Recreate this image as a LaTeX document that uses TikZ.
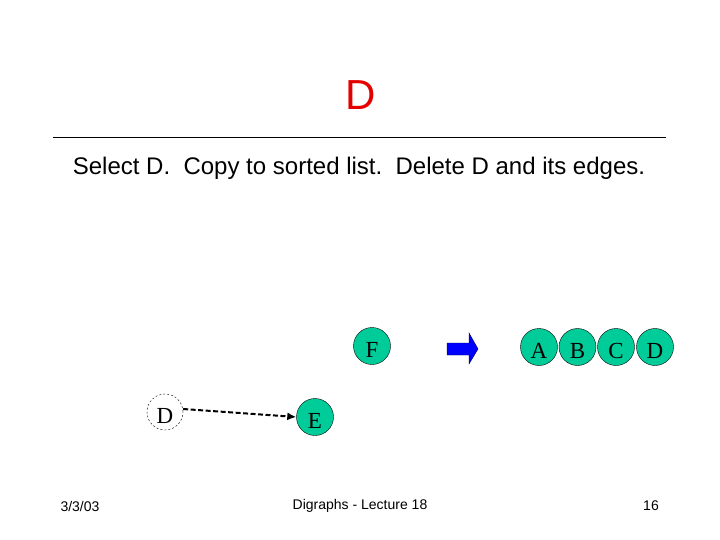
\documentclass[tikz,border=0pt]{standalone}
\usepackage{fontspec}
\setmainfont{Liberation Serif}
\newfontfamily\arial{Liberation Sans}
\usetikzlibrary{arrows.meta}
\definecolor{nodegreen}{RGB}{0,204,153}
\begin{document}
\begin{tikzpicture}[x=1pt,y=-1pt,
  vert/.style={circle,draw=black,fill=nodegreen,minimum size=37pt,inner sep=0pt,text height=23pt,text depth=0pt,font=\fontsize{23}{23}\selectfont},
  gone/.style={circle,draw=black,dash pattern=on 2pt off 2pt,minimum size=36pt,inner sep=0pt,text height=23pt,text depth=0pt,font=\fontsize{23}{23}\selectfont},
  foot/.style={font=\arial\fontsize{14}{14}\selectfont}]
\useasboundingbox (0,0) rectangle (720,540);
\node[font=\arial\fontsize{42}{42}\selectfont,text=red!90!black] (title) at (361,95) {D};
\draw[line width=1pt] (53,138) -- (666,138);
\node[font=\arial\fontsize{24}{24}\selectfont] (sub) at (359,168) {Select D.\ \ Copy to sorted list.\ \ Delete D and its edges.};
\node[vert] (F) at (372,346) {F};
\node[vert] (E) at (315,417) {E};
\node[gone] (D) at (165,412) {D};
\draw[line width=2pt,dash pattern=on 5pt off 2.5pt,-{Latex[length=9pt,width=8pt]}] (D.east) ++(0,-3) coordinate (ds) -- (E.west);
\node[vert] (A) at (539,347) {A};
\node[vert] (B) at (577.5,347) {B};
\node[vert] (C) at (616,347) {C};
\node[vert] (D2) at (655,347) {D};
\draw[fill=blue,draw=black!70!blue] (447,343) -- (469,343) -- (469,333) -- (478,349) -- (469,364) -- (469,355) -- (447,355) -- cycle;
\node[foot] (date) at (80,506) {3/3/03};
\node[foot] (lec) at (360,506) {Digraphs - Lecture 18};
\node[foot] (page) at (651,506) {16};
\end{tikzpicture}
\end{document}
